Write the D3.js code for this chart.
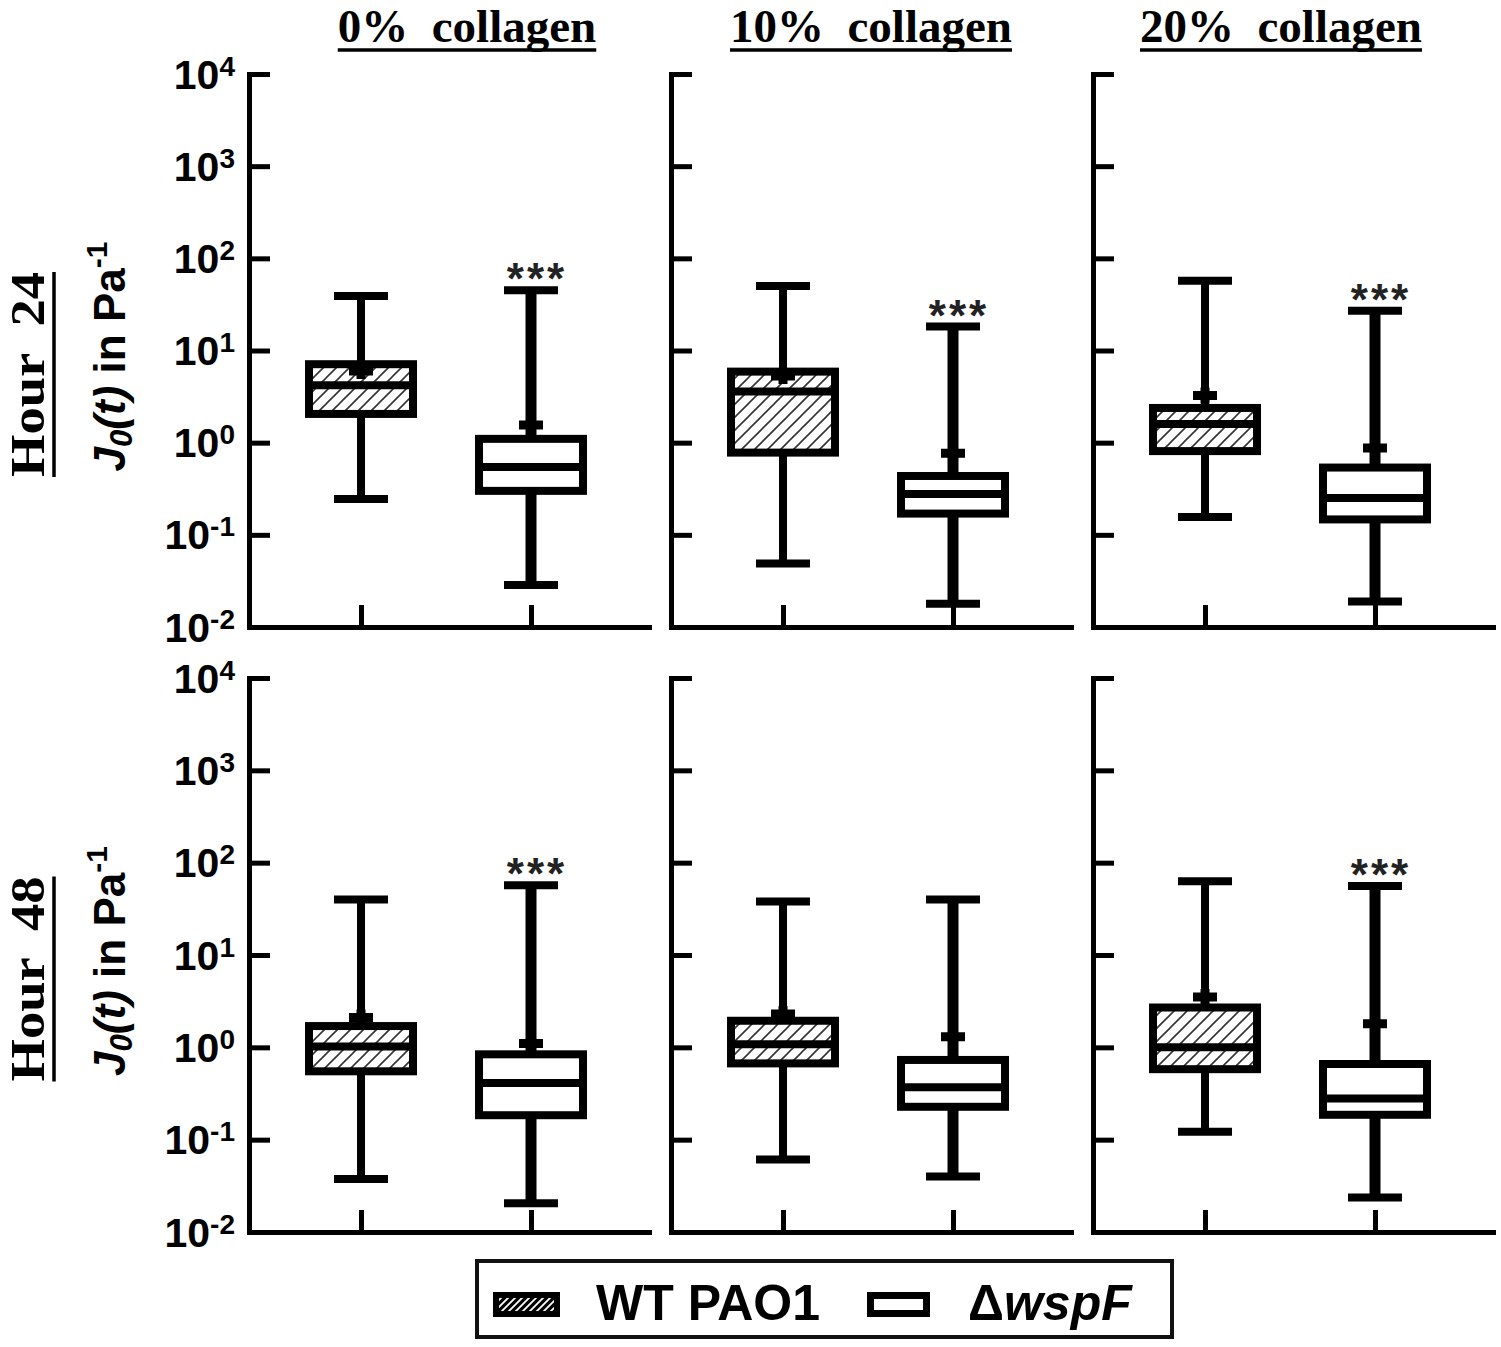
<!DOCTYPE html>
<html>
<head>
<meta charset="utf-8">
<script src="https://cdn.jsdelivr.net/npm/d3@7"></script>
<style>
  body { margin: 0; background: #fff; }
  text { white-space: pre; }
</style>
</head>
<body>
<div id="chart"></div>
<script>
// categories
var strains = ["WT PAO1", "ΔwspF"];
var collagenLevels = ["0%  collagen", "10%  collagen", "20%  collagen"];
var hours = ["Hour  24", "Hour  48"];
var yTickValues = [1e4, 1e3, 1e2, 1e1, 1e0, 1e-1, 1e-2];
var yTickExponents = ["4", "3", "2", "1", "0", "-1", "-2"];

// one entry per panel (hour 24: 0/10/20 %, then hour 48: 0/10/20 %), [WT, ΔwspF]
var whiskerLow  = [[0.245, 0.0286], [0.049, 0.0179], [0.156, 0.0189], [0.0375, 0.0205], [0.061, 0.040], [0.122, 0.0236]];
var q1          = [[2.05, 0.30],    [0.78, 0.17],    [0.81, 0.147],   [0.55, 0.184],    [0.67, 0.227],  [0.58, 0.186]];
var medians     = [[4.2, 0.545],    [3.6, 0.277],    [1.59, 0.251],   [1.02, 0.41],     [1.08, 0.37],   [1.0, 0.28]];
var q3          = [[7.1, 1.10],     [5.9, 0.435],    [2.38, 0.537],   [1.7, 0.84],      [1.94, 0.73],   [2.7, 0.66]];
var whiskerHigh = [[39, 45],        [50, 18.2],      [57, 27],        [40, 57],         [38, 40],       [63, 56]];
var means       = [[6.0, 1.55],     [5.3, 0.77],     [3.25, 0.875],   [2.1, 1.1],       [2.3, 1.3],     [3.5, 1.8]];
var significance = [["", "***"], ["", "***"], ["", "***"], ["", "***"], ["", ""], ["", "***"]];

const width = 1501, height = 1347;
const panelW = 400, panelGap = 22, firstLeft = 249;
const rowRanges = [[627, 74], [1232, 678]];
const titleShift = [18, 0, -12];
const sansFont = "'Liberation Sans', Arial, sans-serif";
const serifFont = "'Liberation Serif', 'Times New Roman', serif";

const svg = d3.select("#chart").append("svg")
    .attr("width", width)
    .attr("height", height);
svg.append("rect").attr("width", width).attr("height", height).attr("fill", "#fff");

// diagonal hatch for the WT boxes
const defs = svg.append("defs");
const hatch = defs.append("pattern")
    .attr("id", "hatch")
    .attr("patternUnits", "userSpaceOnUse")
    .attr("width", 13).attr("height", 13);
hatch.append("rect").attr("width", 13).attr("height", 13).attr("fill", "#fff");
hatch.append("path")
    .attr("d", "M-2,2 L2,-2 M0,13 L13,0 M11,15 L15,11")
    .attr("stroke", "#333").attr("stroke-width", 1.6);

const legendHatch = defs.append("pattern")
    .attr("id", "legendHatch")
    .attr("patternUnits", "userSpaceOnUse")
    .attr("width", 7).attr("height", 7);
legendHatch.append("rect").attr("width", 7).attr("height", 7).attr("fill", "#000");
legendHatch.append("path")
    .attr("d", "M-1,1 L1,-1 M0,7 L7,0 M6,8 L8,6")
    .attr("stroke", "#fff").attr("stroke-width", 1.8);

const x = d3.scalePoint()
    .domain(strains)
    .range([0, panelW])
    .padding(0.6765)
    .align(0.487);

hours.forEach((hour, r) => {
    const y = d3.scaleLog().domain([1e-2, 1e4]).range(rowRanges[r]);

    collagenLevels.forEach((level, c) => {
        const p = r * 3 + c;
        const left = firstLeft + c * (panelW + panelGap);
        const g = svg.append("g").attr("transform", `translate(${left},0)`);

        // y axis, ticks pointing inward
        const yAxis = g.append("g")
            .call(d3.axisLeft(y)
                .tickValues(yTickValues)
                .tickSizeInner(-21)
                .tickSizeOuter(0)
                .tickPadding(14)
                .tickFormat(() => ""));
        yAxis.select(".domain").attr("stroke-width", 5).attr("stroke-linecap", "square");
        yAxis.selectAll(".tick line").attr("stroke-width", 5);
        if (c === 0) {
            yAxis.selectAll(".tick text").each(function (d, i) {
                const t = d3.select(this)
                    .attr("dy", 14)
                    .attr("fill", "#000")
                    .attr("font-family", sansFont)
                    .attr("font-weight", "bold")
                    .attr("font-size", 41);
                t.append("tspan").text("10");
                t.append("tspan").attr("dy", -13).attr("font-size", 28).text(yTickExponents[i]);
            });
        } else {
            yAxis.selectAll(".tick text").remove();
        }

        // x axis
        const xAxis = g.append("g")
            .attr("transform", `translate(0,${y(1e-2)})`)
            .call(d3.axisBottom(x).tickSizeInner(-22).tickSizeOuter(0).tickFormat(""));
        xAxis.select(".domain").attr("stroke-width", 5).attr("stroke-linecap", "square");
        xAxis.selectAll(".tick line").attr("stroke-width", 5);

        // boxes
        strains.forEach((s, k) => {
            const cx = x(s);
            const boxHalf = 52, capHalf = 27;
            const wStroke = k === 0 ? 8 : 11;

            g.append("line")
                .attr("x1", cx).attr("x2", cx)
                .attr("y1", y(q3[p][k])).attr("y2", y(whiskerHigh[p][k]))
                .attr("stroke", "#000").attr("stroke-width", wStroke);
            g.append("line")
                .attr("x1", cx).attr("x2", cx)
                .attr("y1", y(q1[p][k])).attr("y2", y(whiskerLow[p][k]))
                .attr("stroke", "#000").attr("stroke-width", wStroke);

            g.append("rect")
                .attr("x", cx - boxHalf)
                .attr("y", y(q3[p][k]))
                .attr("width", boxHalf * 2)
                .attr("height", y(q1[p][k]) - y(q3[p][k]))
                .attr("fill", k === 0 ? "url(#hatch)" : "#fff")
                .attr("stroke", "#000").attr("stroke-width", 8);

            g.append("line")
                .attr("x1", cx - boxHalf).attr("x2", cx + boxHalf)
                .attr("y1", y(medians[p][k])).attr("y2", y(medians[p][k]))
                .attr("stroke", "#000").attr("stroke-width", 8);

            // mean marker "+"
            const my = y(means[p][k]);
            g.append("path")
                .attr("d", `M${cx - 12},${my}H${cx + 12}M${cx},${my - 8}V${my + 8}`)
                .attr("stroke", "#000").attr("stroke-width", 9);

            [whiskerHigh[p][k], whiskerLow[p][k]].forEach(v => {
                g.append("line")
                    .attr("x1", cx - capHalf).attr("x2", cx + capHalf)
                    .attr("y1", y(v)).attr("y2", y(v))
                    .attr("stroke", "#000").attr("stroke-width", 8);
            });

            if (significance[p][k]) {
                g.append("text")
                    .attr("x", cx + 6)
                    .attr("y", y(whiskerHigh[p][k]) + 4)
                    .attr("text-anchor", "middle")
                    .attr("font-family", sansFont)
                    .attr("font-weight", "bold")
                    .attr("font-size", 44)
                    .attr("letter-spacing", 3)
                    .attr("fill", "#222")
                    .text(significance[p][k]);
            }
        });

        // collagen titles on top row
        if (r === 0) {
            const tx = left + panelW / 2 + titleShift[c];
            const title = svg.append("text")
                .attr("x", tx).attr("y", 42)
                .attr("text-anchor", "middle")
                .attr("font-family", serifFont)
                .attr("font-weight", "bold")
                .attr("font-size", 47)
                .text(level);
            const len = title.node().getComputedTextLength();
            svg.append("line")
                .attr("x1", tx - len / 2).attr("x2", tx + len / 2)
                .attr("y1", 50).attr("y2", 50)
                .attr("stroke", "#000").attr("stroke-width", 3.5);
        }
    });

    // row labels
    const rowMid = (rowRanges[r][0] + rowRanges[r][1]) / 2;
    const hy = rowMid + 24;
    const hLen = 205;
    svg.append("text")
        .attr("transform", `translate(44,${hy}) rotate(-90)`)
        .attr("text-anchor", "middle")
        .attr("font-family", serifFont)
        .attr("font-weight", "bold")
        .attr("font-size", 48)
        .attr("textLength", hLen)
        .attr("lengthAdjust", "spacingAndGlyphs")
        .text(hour);
    svg.append("line")
        .attr("x1", 54).attr("x2", 54)
        .attr("y1", hy - hLen / 2).attr("y2", hy + hLen / 2)
        .attr("stroke", "#000").attr("stroke-width", 3.5);

    const jLabel = svg.append("text")
        .attr("transform", `translate(125,${rowMid + 6}) rotate(-90)`)
        .attr("text-anchor", "middle")
        .attr("font-family", sansFont)
        .attr("font-weight", "bold")
        .attr("font-size", 44);
    jLabel.append("tspan").attr("font-style", "italic").text("J");
    jLabel.append("tspan").attr("font-style", "italic").attr("font-size", 31).attr("dy", 7).text("0");
    jLabel.append("tspan").attr("font-style", "italic").attr("dy", -7).text("(t)");
    jLabel.append("tspan").text(" in Pa");
    jLabel.append("tspan").attr("font-size", 30).attr("dy", -18).text("-1");
});

// legend
const legend = svg.append("g");
legend.append("rect")
    .attr("x", 477).attr("y", 1261)
    .attr("width", 695).attr("height", 76)
    .attr("fill", "#fff").attr("stroke", "#111").attr("stroke-width", 4);
legend.append("rect")
    .attr("x", 496).attr("y", 1295).attr("width", 61).attr("height", 19)
    .attr("fill", "url(#legendHatch)").attr("stroke", "#000").attr("stroke-width", 6);
legend.append("text")
    .attr("x", 596).attr("y", 1320)
    .attr("font-family", sansFont).attr("font-weight", "bold").attr("font-size", 50)
    .text(strains[0]);
legend.append("rect")
    .attr("x", 870.5).attr("y", 1295.5).attr("width", 56).attr("height", 18)
    .attr("fill", "#fff").attr("stroke", "#000").attr("stroke-width", 7);
const lt = legend.append("text")
    .attr("x", 968).attr("y", 1320)
    .attr("font-family", sansFont).attr("font-weight", "bold").attr("font-size", 50);
lt.append("tspan").text(strains[1].slice(0, 1));
lt.append("tspan").attr("font-style", "italic").text(strains[1].slice(1));
</script>
</body>
</html>
